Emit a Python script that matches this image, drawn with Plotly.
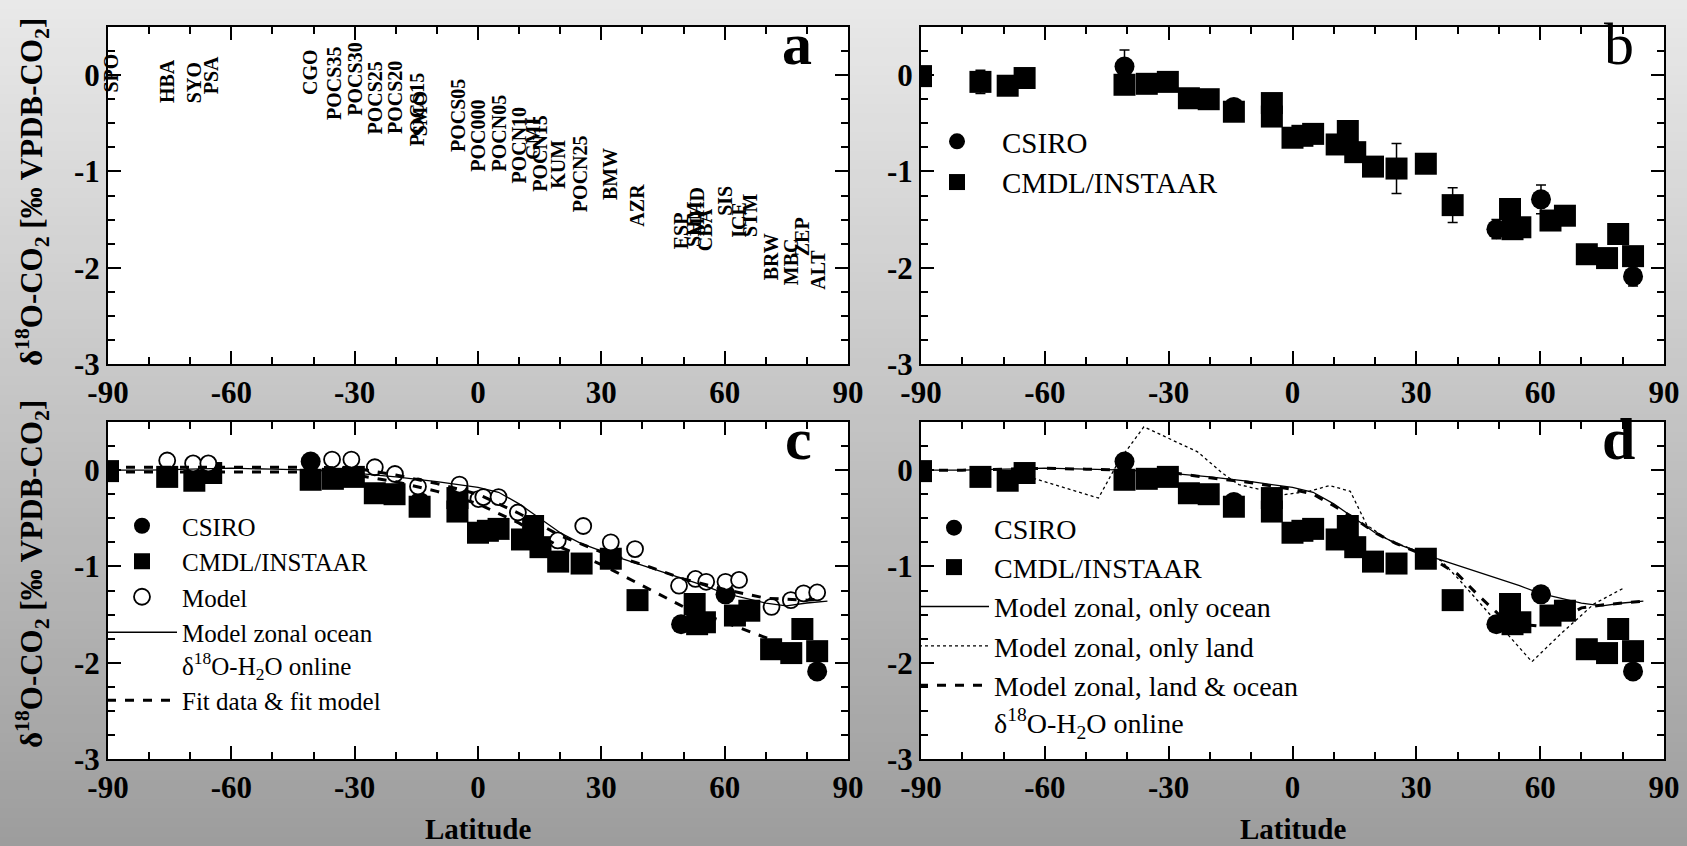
import plotly.graph_objects as go

W, H = 1687, 846

# ---------------- axis ticks ----------------
x_tickvals = [-90, -60, -30, 0, 30, 60, 90]
x_ticktext = ["-90", "-60", "-30", "0", "30", "60", "90"]
x_minor = [-80, -70, -50, -40, -20, -10, 10, 20, 40, 50, 70, 80]
y_tickvals = [0, -1, -2, -3]
y_ticktext = ["0", "-1", "-2", "-3"]
y_minor = [0.25, -0.25, -0.5, -0.75, -1.25, -1.5, -1.75, -2.25, -2.5, -2.75]

# ---------------- panel a: station labels ----------------
station_names = ["SPO", "HBA", "SYO", "PSA", "CGO", "POCS35", "POCS30", "POCS25",
                 "POCS20", "POCS15", "SMO", "POCS05", "POC000", "POCN05", "POCN10",
                 "GMI", "POCN15", "KUM", "POCN25", "BMW", "AZR", "ESP", "SHM", "MHD",
                 "CBA", "SIS", "ICE", "STM", "BRW", "MBC", "ZEP", "ALT"]
station_lat = [-89.2, -75.6, -69.0, -64.9, -40.7, -35.0, -30.0, -25.0,
               -20.0, -15.0, -14.2, -5.0, 0.0, 5.0, 10.0,
               13.4, 15.0, 19.5, 25.0, 32.3, 38.8, 49.4, 52.7, 53.3,
               55.2, 60.2, 63.3, 66.0, 71.3, 76.2, 78.9, 82.5]
station_val = [0.02, -0.06, -0.08, 0.0, 0.03, -0.09, -0.04, -0.24,
               -0.23, -0.36, -0.40, -0.42, -0.63, -0.60, -0.73,
               -0.66, -0.81, -0.93, -1.02, -1.03, -1.35, -1.62, -1.55, -1.42,
               -1.60, -1.30, -1.50, -1.46, -1.89, -1.94, -1.68, -2.02]

# ---------------- observations ----------------
cmdl_lat = [-90.0, -75.6, -69.0, -64.9, -40.7, -35.3, -30.2, -25.1, -20.3, -14.2,
            -5.0, -5.0, 0.0, 2.4, 5.0, 10.7, 13.4, 15.2, 19.5, 25.2, 32.3,
            38.8, 52.7, 53.3, 55.2, 62.5, 66.0, 71.3, 76.2, 78.9, 82.5]
cmdl_val = [-0.01, -0.07, -0.11, -0.03, -0.10, -0.09, -0.07, -0.24, -0.25, -0.38,
            -0.29, -0.43, -0.65, -0.63, -0.61, -0.72, -0.58, -0.80, -0.95, -0.97, -0.92,
            -1.35, -1.39, -1.60, -1.58, -1.51, -1.46, -1.86, -1.90, -1.65, -1.88]
cmdl_err = [0.04, 0.12, 0.04, 0.03, 0.04, 0.03, 0.03, 0.03, 0.03, 0.03,
            0.04, 0.04, 0.04, 0.03, 0.03, 0.04, 0.05, 0.04, 0.04, 0.26, 0.04,
            0.18, 0.05, 0.10, 0.04, 0.04, 0.10, 0.04, 0.04, 0.04, 0.04]

csiro_lat = [-40.7, -14.2, 49.4, 60.2, 82.5]
csiro_val = [0.09, -0.33, -1.60, -1.29, -2.09]
csiro_err = [0.17, 0.04, 0.10, 0.15, 0.10]

# ---------------- model at stations (panel c) ----------------
model_lat = [-75.6, -69.3, -65.6, -35.5, -30.8, -25.1, -20.2, -14.6, -4.5, 0.1, 1.3,
             5.0, 9.7, 19.4, 25.6, 32.3, 38.2, 48.9, 52.9, 55.5, 60.2, 63.5,
             71.4, 76.1, 79.2, 82.5]
model_val = [0.10, 0.07, 0.07, 0.11, 0.11, 0.03, -0.04, -0.17, -0.15, -0.30, -0.28,
             -0.28, -0.44, -0.73, -0.58, -0.75, -0.82, -1.20, -1.13, -1.16, -1.16, -1.14,
             -1.42, -1.35, -1.28, -1.27]

# ---------------- zonal model curves ----------------
zonal_lat = [-90, -80, -70, -60, -50, -40, -30, -20, -10, 0, 5, 10, 15, 20, 25,
             30, 35, 40, 45, 50, 55, 60, 65, 70, 75, 80, 85]
zonal_ocean = [0.0, 0.0, 0.01, 0.02, 0.01, 0.0, -0.03, -0.07, -0.12, -0.18, -0.23,
               -0.35, -0.50, -0.65, -0.76, -0.84, -0.92, -0.99, -1.06, -1.13, -1.20,
               -1.28, -1.33, -1.38, -1.41, -1.38, -1.36]
zonal_land_ocean = [0.0, 0.0, 0.01, 0.02, 0.01, 0.0, -0.02, -0.08, -0.13, -0.20, -0.25,
                    -0.37, -0.50, -0.65, -0.76, -0.85, -0.95, -1.08, -1.30, -1.50, -1.60,
                    -1.62, -1.55, -1.43, -1.40, -1.38, -1.36]
land_lat = [-67, -60, -55, -47, -42, -36, -31, -23, -17, -13, -8, -3, 4, 9, 14, 18,
            23, 30, 36, 40, 45, 50, 58, 65, 73, 80]
land_val = [-0.03, -0.12, -0.18, -0.29, 0.10, 0.45, 0.35, 0.19, -0.03, -0.15, -0.20,
            -0.26, -0.22, -0.16, -0.22, -0.57, -0.72, -0.84, -0.94, -1.12, -1.36, -1.60,
            -1.99, -1.70, -1.39, -1.23]

fit_lat = [-90, -80, -70, -60, -50, -40, -30, -20, -10, 0, 10, 20, 30, 40, 50, 60, 70, 80, 83]
fit_data = [-0.02, -0.02, -0.02, -0.02, -0.02, -0.02, -0.05, -0.12, -0.22, -0.35, -0.55,
            -0.80, -0.98, -1.20, -1.42, -1.58, -1.74, -1.92, -1.98]
fit_model = [0.03, 0.03, 0.03, 0.03, 0.03, 0.03, 0.02, -0.05, -0.14, -0.25, -0.45,
             -0.68, -0.85, -0.98, -1.13, -1.24, -1.33, -1.35, -1.34]

# ---------------- layout geometry (pixels) ----------------
col_px = [(108, 848), (921, 1664)]
row_px = [(27, 364), (422, 759)]

SERIF = "Liberation Serif"


def xdom(c):
    return [col_px[c][0] / W, col_px[c][1] / W]


def ydom(r):
    return [1 - row_px[r][1] / H, 1 - row_px[r][0] / H]


def xaxis(c, r, anchor):
    return dict(domain=xdom(c), range=[-90, 90], anchor=anchor, automargin=False,
                tickmode="array", tickvals=x_tickvals, ticktext=x_ticktext,
                ticks="inside", ticklen=13, tickwidth=2, tickcolor="black",
                minor=dict(tickmode="array", tickvals=x_minor, ticks="inside",
                           ticklen=7, tickwidth=2, tickcolor="black"),
                showline=True, linecolor="black", linewidth=2, mirror="allticks",
                showgrid=False, zeroline=False, ticklabelstandoff=0,
                tickfont=dict(family=SERIF, size=31, color="black", weight="bold"))


def yaxis(c, r, anchor):
    return dict(domain=ydom(r), range=[-3, 0.5], anchor=anchor, automargin=False,
                tickmode="array", tickvals=y_tickvals, ticktext=y_ticktext,
                ticks="inside", ticklen=13, tickwidth=2, tickcolor="black",
                minor=dict(tickmode="array", tickvals=y_minor, ticks="inside",
                           ticklen=7, tickwidth=2, tickcolor="black"),
                showline=True, linecolor="black", linewidth=2, mirror="allticks",
                showgrid=False, zeroline=False, ticklabelstandoff=0,
                tickfont=dict(family=SERIF, size=31, color="black", weight="bold"))


fig = go.Figure()

# panel a: empty trace so the subplot exists
fig.add_trace(go.Scatter(x=[None], y=[None], xaxis="x", yaxis="y", showlegend=False))

SQ = 22
CI = 20


def add_obs(xa, ya, legend, errors):
    fig.add_trace(go.Scatter(
        x=csiro_lat, y=csiro_val, mode="markers", name="CSIRO",
        xaxis=xa, yaxis=ya, legend=legend,
        marker=dict(symbol="circle", size=CI, color="black"),
        error_y=dict(type="data", array=csiro_err, color="black", thickness=1.5,
                     width=5, visible=errors)))
    fig.add_trace(go.Scatter(
        x=cmdl_lat, y=cmdl_val, mode="markers", name="CMDL/INSTAAR",
        xaxis=xa, yaxis=ya, legend=legend,
        marker=dict(symbol="square", size=SQ, color="black"),
        error_y=dict(type="data", array=cmdl_err, color="black", thickness=1.5,
                     width=5, visible=errors)))


# panel b
add_obs("x2", "y2", "legend", True)

# panel c
add_obs("x3", "y3", "legend2", False)
fig.add_trace(go.Scatter(
    x=model_lat, y=model_val, mode="markers", name="Model", xaxis="x3", yaxis="y3",
    legend="legend2",
    marker=dict(symbol="circle", size=16, color="white", line=dict(color="black", width=1.8))))
fig.add_trace(go.Scatter(
    x=zonal_lat, y=zonal_ocean, mode="lines",
    name="Model zonal ocean<br>δ<sup>18</sup>O-H<sub>2</sub>O online",
    xaxis="x3", yaxis="y3", legend="legend2", line=dict(color="black", width=1.3)))
fig.add_trace(go.Scatter(
    x=fit_lat, y=fit_data, mode="lines", name="Fit data & fit model",
    xaxis="x3", yaxis="y3", legend="legend2",
    line=dict(color="black", width=3, dash="dash")))
fig.add_trace(go.Scatter(
    x=fit_lat, y=fit_model, mode="lines", name="Fit model", showlegend=False,
    xaxis="x3", yaxis="y3", line=dict(color="black", width=3, dash="dash")))

# panel d
add_obs("x4", "y4", "legend3", False)
fig.add_trace(go.Scatter(
    x=zonal_lat, y=zonal_ocean, mode="lines", name="Model zonal, only ocean",
    xaxis="x4", yaxis="y4", legend="legend3", line=dict(color="black", width=1.3)))
fig.add_trace(go.Scatter(
    x=land_lat, y=land_val, mode="lines", name="Model zonal, only land",
    xaxis="x4", yaxis="y4", legend="legend3",
    line=dict(color="black", width=1.3, dash="dot")))
fig.add_trace(go.Scatter(
    x=zonal_lat, y=zonal_land_ocean, mode="lines",
    name="Model zonal, land & ocean<br>δ<sup>18</sup>O-H<sub>2</sub>O online",
    xaxis="x4", yaxis="y4", legend="legend3",
    line=dict(color="black", width=3, dash="dash")))

# ---------------- background gradient + white plot areas ----------------
shapes = []
n = 90
top_rgb, bot_rgb = 233, 157
for i in range(n):
    t = (i + 0.5) / n
    g = int(round(top_rgb + (bot_rgb - top_rgb) * t))
    shapes.append(dict(type="rect", xref="paper", yref="paper", x0=-0.01, x1=1.01,
                       y0=1 - (i + 1) / n - 0.002 - (0.01 if i == n - 1 else 0),
                       y1=1 - i / n + (0.01 if i == 0 else 0),
                       fillcolor=f"rgb({g},{g},{g})", line=dict(width=0), layer="below"))
for c in range(2):
    for r in range(2):
        xd, yd = xdom(c), ydom(r)
        shapes.append(dict(type="rect", xref="paper", yref="paper", x0=xd[0], x1=xd[1],
                           y0=yd[0], y1=yd[1], fillcolor="white", line=dict(width=0),
                           layer="below"))

# ---------------- annotations ----------------
annotations = []
for nm, la, va in zip(station_names, station_lat, station_val):
    annotations.append(dict(x=la, y=va, xref="x", yref="y", text=nm, showarrow=False,
                            textangle=-90,
                            font=dict(family=SERIF, size=20, color="black", weight="bold")))

panel_letters = [("a", "x", "y", 77.5, "bold"), ("b", "x2", "y2", 79, "normal"),
                 ("c", "x3", "y3", 78, "bold"), ("d", "x4", "y4", 79, "bold")]
for txt, xr, yr, xv, wt in panel_letters:
    annotations.append(dict(x=xv, y=-0.04, xref=xr, yref=yr, text=txt, showarrow=False,
                            xanchor="center", yanchor="bottom",
                            font=dict(family=SERIF, size=60, color="black", weight=wt)))

ytitle = "δ<sup>18</sup>O-CO<sub>2</sub> [‰ VPDB-CO<sub>2</sub>]"
for yc in (192, 574):
    annotations.append(dict(x=32 / W, y=1 - yc / H, xref="paper", yref="paper",
                            text=ytitle, showarrow=False, textangle=-90,
                            xanchor="center", yanchor="middle",
                            font=dict(family=SERIF, size=31, color="black", weight="bold")))
for c in range(2):
    xd = xdom(c)
    annotations.append(dict(x=(xd[0] + xd[1]) / 2, y=1 - 829 / H, xref="paper", yref="paper",
                            text="Latitude", showarrow=False, xanchor="center",
                            yanchor="middle",
                            font=dict(family=SERIF, size=29, color="black", weight="bold")))


def leg(x_px, y_px, size, itemwidth):
    return dict(x=x_px / W, y=1 - y_px / H, xanchor="left", yanchor="top",
                bgcolor="rgba(0,0,0,0)", borderwidth=0, itemwidth=itemwidth,
                tracegroupgap=0, valign="top",
                font=dict(family=SERIF, size=size, color="black"))


fig.update_layout(
    width=W, height=H,
    margin=dict(l=0, r=0, t=0, b=0, autoexpand=False),
    paper_bgcolor="rgb(200,200,200)", plot_bgcolor="rgba(0,0,0,0)",
    xaxis=xaxis(0, 0, "y"), yaxis=yaxis(0, 0, "x"),
    xaxis2=xaxis(1, 0, "y2"), yaxis2=yaxis(1, 0, "x2"),
    xaxis3=xaxis(0, 1, "y3"), yaxis3=yaxis(0, 1, "x3"),
    xaxis4=xaxis(1, 1, "y4"), yaxis4=yaxis(1, 1, "x4"),
    legend=leg(912, 116, 29, 80),
    legend2=leg(102, 503, 25, 70),
    legend3=leg(914, 503, 28, 70),
    shapes=shapes, annotations=annotations,
    showlegend=True,
)

fig.write_html("out.html")
